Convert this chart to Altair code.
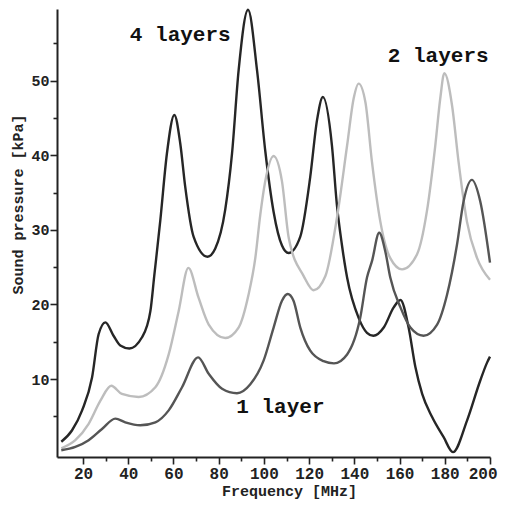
import altair as alt
import pandas as pd

# ---- data ----
series_names = ["4 layers", "2 layers", "1 layer"]

f4 = [10.4, 15.1, 19.6, 24.0, 26.9, 29.9, 33.5, 36.5, 40.5, 46.1, 49.8, 51.5, 54.2, 57.1, 60.4,
      63.0, 65.2, 68.9, 75.1, 78.5, 82.9, 85.9, 88.8, 93.0, 97.0, 100.6, 104.3, 108.0, 110.9,
      116.1, 120.5, 123.5, 126.1, 130.1, 132.3, 134.5, 136.8, 141.9, 145.6, 148.4, 153.0, 157.4,
      160.4, 164.0, 167.0, 170.0, 174.4, 179.5, 183.6, 189.8, 195.7, 198.7, 200.0]
v4 = [1.6, 3.1, 5.8, 10.2, 16.0, 17.6, 15.8, 14.5, 14.1, 15.6, 19.1, 23.8, 31.3, 40.2, 45.4,
      41.6, 35.8, 29.1, 26.4, 27.5, 32.7, 40.2, 51.3, 59.5, 51.3, 40.6, 32.4, 27.9, 26.9,
      29.1, 37.1, 44.7, 47.8, 41.3, 33.3, 28.0, 23.6, 18.2, 16.2, 15.8, 16.9, 19.6,
      20.6, 16.9, 11.6, 8.0, 4.9, 2.2, 0.2, 4.4, 9.8, 12.2, 13.0]

f2 = [10.4, 16.6, 22.5, 27.7, 32.5, 37.2, 44.6, 52.0, 57.9, 62.3, 66.6, 71.1, 75.6, 82.9, 88.8,
      93.2, 96.2, 98.4, 100.6, 104.3, 108.0, 111.0, 117.6, 122.0, 127.2, 132.3, 136.8, 139.7,
      141.9, 144.9, 147.8, 151.5, 155.9, 161.1, 167.7, 172.1, 175.8, 178.0, 179.8, 183.2, 186.1,
      189.8, 194.3, 200.0]
v2 = [0.7, 1.8, 4.0, 7.1, 9.1, 8.0, 7.6, 8.9, 13.3, 19.1, 24.9, 20.9, 17.3, 15.5, 16.9,
      21.3, 26.2, 32.0, 36.5, 39.9, 36.5, 28.9, 23.8, 21.9, 23.8, 31.6, 41.3, 47.6,
      49.6, 47.1, 39.1, 31.1, 26.2, 24.7, 26.7, 32.5, 41.3, 47.6, 51.0, 46.7, 39.1,
      31.1, 26.2, 23.3]

f1 = [10.4, 16.6, 22.5, 28.4, 34.3, 38.7, 45.3, 52.0, 57.9, 63.8, 70.9, 75.6, 81.5, 88.1, 94.0,
      99.9, 104.3, 108.0, 110.5, 113.1, 116.1, 120.5, 126.4, 131.0, 136.8, 142.6, 145.6, 147.8,
      151.0, 153.7, 155.9, 160.4, 164.8, 170.6, 176.6, 181.0, 185.4, 188.3, 192.0, 195.7, 200.0]
v1 = [0.45, 0.9, 1.8, 3.3, 4.7, 4.2, 3.8, 4.2, 5.8, 8.9, 12.9, 10.7, 8.7, 8.1, 9.3,
      12.5, 16.9, 20.5, 21.4, 20.5, 16.9, 13.8, 12.4, 12.1, 13.3, 18.2, 23.6, 25.8,
      29.6, 27.1, 23.6, 19.6, 16.9, 15.8, 17.3, 21.3, 28.0, 33.8, 36.7, 33.8, 25.6]

x_major = [20, 40, 60, 80, 100, 120, 140, 160, 180, 200]
x_minor = [30, 50, 70, 90, 110, 130, 150, 170, 190]
y_major = [10, 20, 30, 40, 50]
y_minor = [5, 15, 25, 35, 45, 55]

label_text = ["4 layers", "2 layers", "1 layer"]
label_f = [63.0, 177.1, 107.3]
label_v = [56.1, 53.3, 6.2]

colors = ["#262626", "#bdbdbd", "#555555"]

rows = []
for name, fs, vs in zip(series_names, [f4, f2, f1], [v4, v2, v1]):
    for f, v in zip(fs, vs):
        rows.append({"series": name, "f": f, "v": v})
df = pd.DataFrame(rows)
labels_df = pd.DataFrame({"text": label_text, "f": label_f, "v": label_v})

FONT = "Courier New, Courier, Nimbus Mono PS, Liberation Mono, monospace"

xscale = alt.Scale(domain=[8.5, 200], nice=False, zero=False)
yscale = alt.Scale(domain=[-0.45, 59.6], nice=False, zero=False)

lines = alt.Chart(df).mark_line(interpolate="monotone", strokeWidth=2.4).encode(
    x=alt.X("f:Q", scale=xscale,
            axis=alt.Axis(values=x_major, title="Frequency [MHz]", orient="bottom",
                          tickSize=7, tickWidth=1.6, tickColor="#222", domainColor="#222",
                          domainWidth=2, grid=False, labelFont=FONT, labelFontSize=16,
                          labelFontWeight="bold", labelColor="#222", labelPadding=1,
                          labelFlush=True, labelFlushOffset=7,
                          titleFont=FONT, titleFontSize=15, titleFontWeight="bold",
                          titleColor="#222", titleX=232, titleY=33, titleAlign="center",
                          titleBaseline="middle")),
    y=alt.Y("v:Q", scale=yscale,
            axis=alt.Axis(values=y_major, title="Sound pressure [kPa]", orient="left",
                          tickSize=7, tickWidth=1.6, tickColor="#222", domainColor="#222",
                          domainWidth=2, grid=False, labelFont=FONT, labelFontSize=15,
                          labelFontWeight="bold", labelColor="#222", labelPadding=1,
                          titleFont=FONT, titleFontSize=15, titleFontWeight="bold",
                          titleColor="#222", titleX=-40, titleY=195, titleAngle=270,
                          titleAlign="center", titleBaseline="middle", labelFlush=False)),
    color=alt.Color("series:N", scale=alt.Scale(domain=series_names, range=colors), legend=None),
)

minor = alt.Chart(df).mark_line(opacity=0).encode(
    x=alt.X("f:Q", scale=xscale,
            axis=alt.Axis(values=x_minor, title="", orient="bottom", labels=False, domain=False,
                          tickSize=4, tickWidth=1.6, tickColor="#222", grid=False)),
    y=alt.Y("v:Q", scale=yscale,
            axis=alt.Axis(values=y_minor, title="", orient="left", labels=False, domain=False,
                          tickSize=4, tickWidth=1.6, tickColor="#222", grid=False)),
    detail="series:N",
)

texts = alt.Chart(labels_df).mark_text(font=FONT, fontSize=21, fontWeight="bold",
                                        color="#111", baseline="middle", align="center").encode(
    x=alt.X("f:Q", scale=xscale, axis=None),
    y=alt.Y("v:Q", scale=yscale, axis=None),
    text="text:N",
)

chart = alt.layer(lines, minor, texts).resolve_axis(x="independent", y="independent").properties(
    width=433, height=448,
    autosize=alt.AutoSizeParams(type="none"),
    padding={"left": 49, "top": 1, "right": 8, "bottom": 43},
).configure_view(stroke=None)

chart.save("out.html", embed_options={"renderer": "svg", "actions": False})
